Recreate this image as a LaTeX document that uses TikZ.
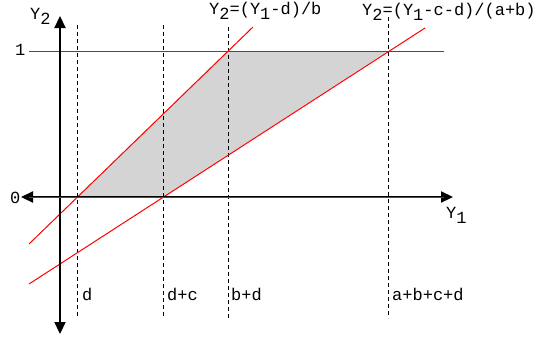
\documentclass[tikz,border=0pt]{standalone}
\usepackage{fontspec}
\setmonofont{Liberation Mono}
\usetikzlibrary{arrows.meta}
\newcommand{\lowsub}[1]{\raisebox{-0.33em}{#1}}
\begin{document}
\begin{tikzpicture}[x=1pt,y=-1pt,
  lbl/.style={anchor=base west,inner sep=0pt,font=\ttfamily\fontsize{17}{20}\selectfont},
  guide/.style={black,line width=0.9pt,dash pattern=on 4pt off 3pt},
  redline/.style={red,line width=1pt},
  axis/.style={black,line width=2.2pt,-{Triangle[length=12pt,width=11pt]}}]
\useasboundingbox (0,0) rectangle (535,338);
% key points
\coordinate (P0) at (77,197);
\coordinate (P1) at (228,51);
\coordinate (P2) at (388,51);
\coordinate (P3) at (163,197);
% shaded region
\fill[black!17] (P0) -- (P1) -- (P2) -- (P3) -- cycle;
% dashed guides
\draw[guide] (77,25) -- (77,318);
\draw[guide] (163,25) -- (163,318);
\draw[guide] (228,27) -- (228,318);
\draw[guide] (388,17) -- (388,318);
% red lines
\draw[redline] (29,51) -- (444,51);
\draw[redline] (29,244) -- (253,27);
\draw[redline] (29,284) -- (425,28);
% axes
\draw[axis] (60,197) -- (453,197);
\draw[axis] (60,197) -- (21,197);
\draw[axis] (60,197) -- (60,16);
\draw[axis] (60,197) -- (60,334);
\draw[red,line width=1.4pt] (29,197.3) -- (444,197.3);
% labels
\node[lbl] (ly2) at (30,19) {Y\lowsub{2}};
\node[lbl] (lf1) at (209,14) {Y\lowsub{2}=(Y\lowsub{1}-d)/b};
\node[lbl] (lf2) at (362,15) {Y\lowsub{2}=(Y\lowsub{1}-c-d)/(a+b)};
\node[lbl] (ly1) at (446,218) {Y\lowsub{1}};
\node[lbl] (lone) at (15,55) {1};
\node[lbl] (lzero) at (10,203) {0};
\node[lbl] (ld) at (82,300) {d};
\node[lbl] (ldc) at (167,300) {d+c};
\node[lbl] (lbd) at (231,300) {b+d};
\node[lbl] (labcd) at (392,300) {a+b+c+d};
\end{tikzpicture}
\end{document}
